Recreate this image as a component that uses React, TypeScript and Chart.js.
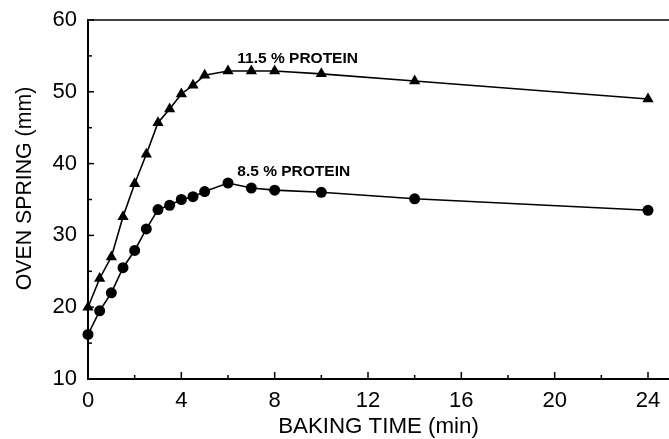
import React, { useEffect, useRef } from "react";
import { Chart, registerables } from "chart.js";

Chart.register(...registerables);

const bakingTime = [0, 0.5, 1, 1.5, 2, 2.5, 3, 3.5, 4, 4.5, 5, 6, 7, 8, 10, 14, 24];
const protein115 = [20, 24, 27, 32.6, 37.2, 41.3, 45.7, 47.6, 49.7, 50.9, 52.3, 52.9, 52.9, 52.9, 52.5, 51.5, 49.0];
const protein85 = [16.2, 19.5, 22.0, 25.5, 27.9, 30.9, 33.6, 34.2, 35.0, 35.4, 36.1, 37.3, 36.6, 36.3, 36.0, 35.1, 33.5];

const seriesLabels = ["11.5 % PROTEIN", "8.5 % PROTEIN"];
const labelX = [6.4, 6.4];
const labelY = [54.6, 38.85];

const xTicks = [0, 4, 8, 12, 16, 20, 24];
const xMinorTicks = [2, 6, 10, 14, 18, 22];
const yTicks = [10, 20, 30, 40, 50, 60];
const yMinorTicks = [15, 25, 35, 45, 55];

const xTitle = "BAKING TIME (min)";
const yTitle = "OVEN SPRING (mm)";

const FONT = "Arial, 'Liberation Sans', sans-serif";

const framePlugin = {
  id: "framePlugin",
  afterDraw(chart: any) {
    const { ctx, chartArea, scales } = chart;
    const xs = scales.x;
    const ys = scales.y;
    ctx.save();
    ctx.strokeStyle = "#000";
    ctx.lineWidth = 1.5;
    ctx.beginPath();
    ctx.moveTo(chartArea.left, chartArea.top);
    ctx.lineTo(chartArea.right, chartArea.top);
    ctx.stroke();
    const bottom = chartArea.bottom;
    const left = chartArea.left;
    xTicks.forEach((v) => {
      if (v === 0) return;
      const px = xs.getPixelForValue(v);
      ctx.beginPath();
      ctx.moveTo(px, bottom);
      ctx.lineTo(px, bottom - 7);
      ctx.stroke();
    });
    xMinorTicks.forEach((v) => {
      const px = xs.getPixelForValue(v);
      ctx.beginPath();
      ctx.moveTo(px, bottom);
      ctx.lineTo(px, bottom - 4);
      ctx.stroke();
    });
    yTicks.forEach((v) => {
      if (v === 10) return;
      const py = ys.getPixelForValue(v);
      ctx.beginPath();
      ctx.moveTo(left, py);
      ctx.lineTo(left + 6, py);
      ctx.stroke();
    });
    yMinorTicks.forEach((v) => {
      const py = ys.getPixelForValue(v);
      ctx.beginPath();
      ctx.moveTo(left, py);
      ctx.lineTo(left + 4, py);
      ctx.stroke();
    });
    ctx.fillStyle = "#000";
    ctx.font = "bold 15.5px " + FONT;
    ctx.textAlign = "left";
    ctx.textBaseline = "middle";
    seriesLabels.forEach((t, i) => {
      ctx.fillText(t, xs.getPixelForValue(labelX[i]), ys.getPixelForValue(labelY[i]));
    });
    // y axis title
    ctx.font = "21.3px " + FONT;
    ctx.textAlign = "center";
    ctx.textBaseline = "middle";
    ctx.translate(ys.left + 25, (chartArea.top + chartArea.bottom) / 2 - 11);
    ctx.rotate(-Math.PI / 2);
    ctx.fillText(yTitle, 0, 0);
    ctx.restore();
  },
};

export default function App() {
  const canvasRef = useRef<HTMLCanvasElement | null>(null);

  useEffect(() => {
    const canvas = canvasRef.current;
    if (!canvas) return;
    const toPts = (ys: number[]) => bakingTime.map((x, i) => ({ x, y: ys[i] }));
    const chart = new Chart(canvas, {
      type: "line",
      data: {
        datasets: [
          {
            label: seriesLabels[0],
            data: toPts(protein115),
            borderColor: "#000",
            backgroundColor: "#000",
            borderWidth: 1.6,
            pointStyle: "triangle",
            pointRadius: 6.5,
            pointBorderWidth: 0,
            tension: 0,
            clip: false as any,
          },
          {
            label: seriesLabels[1],
            data: toPts(protein85),
            borderColor: "#000",
            backgroundColor: "#000",
            borderWidth: 1.6,
            pointStyle: "circle",
            pointRadius: 5.5,
            pointBorderWidth: 0,
            tension: 0,
            clip: false as any,
          },
        ],
      },
      options: {
        responsive: false,
        animation: false,
        devicePixelRatio: 1,
        layout: { autoPadding: false, padding: { top: 20, right: 0, left: 0, bottom: 0 } },
        plugins: {
          legend: { display: false },
          tooltip: { enabled: false },
        },
        scales: {
          x: {
            type: "linear",
            position: "bottom",
            min: 0,
            max: 24.9,
            afterFit: (s: any) => {
              s.height = 60;
              s.paddingLeft = 0;
              s.paddingRight = 0;
            },
            afterBuildTicks: (s: any) => {
              s.ticks = xTicks.map((v) => ({ value: v }));
            },
            grid: { display: false, drawTicks: false },
            border: { display: true, width: 2, color: "#000" },
            ticks: {
              color: "#000",
              font: { family: FONT, size: 22 },
              padding: 9,
              autoSkip: false,
              maxRotation: 0,
              includeBounds: false,
            },
            title: {
              display: true,
              text: xTitle,
              color: "#000",
              font: { family: FONT, size: 22.3, lineHeight: 1 },
              padding: { top: 0, bottom: 1 },
            },
          },
          y: {
            type: "linear",
            position: "left",
            min: 10,
            max: 60,
            afterFit: (s: any) => {
              s.width = 88;
              s.paddingTop = 0;
              s.paddingBottom = 0;
            },
            afterBuildTicks: (s: any) => {
              s.ticks = yTicks.map((v) => ({ value: v }));
            },
            grid: { display: false, drawTicks: false },
            border: { display: true, width: 2, color: "#000" },
            ticks: {
              color: "#000",
              font: { family: FONT, size: 22 },
              padding: 11,
              autoSkip: false,
              includeBounds: false,
            },
            title: { display: false },
          },
        },
      },
      plugins: [framePlugin],
    } as any);
    return () => chart.destroy();
  }, []);

  return (
    <div style={{ position: "absolute", left: 0, top: 0, width: 669, height: 439, background: "#fff" }}>
      <canvas ref={canvasRef} width={669} height={439} style={{ display: "block" }} />
    </div>
  );
}
